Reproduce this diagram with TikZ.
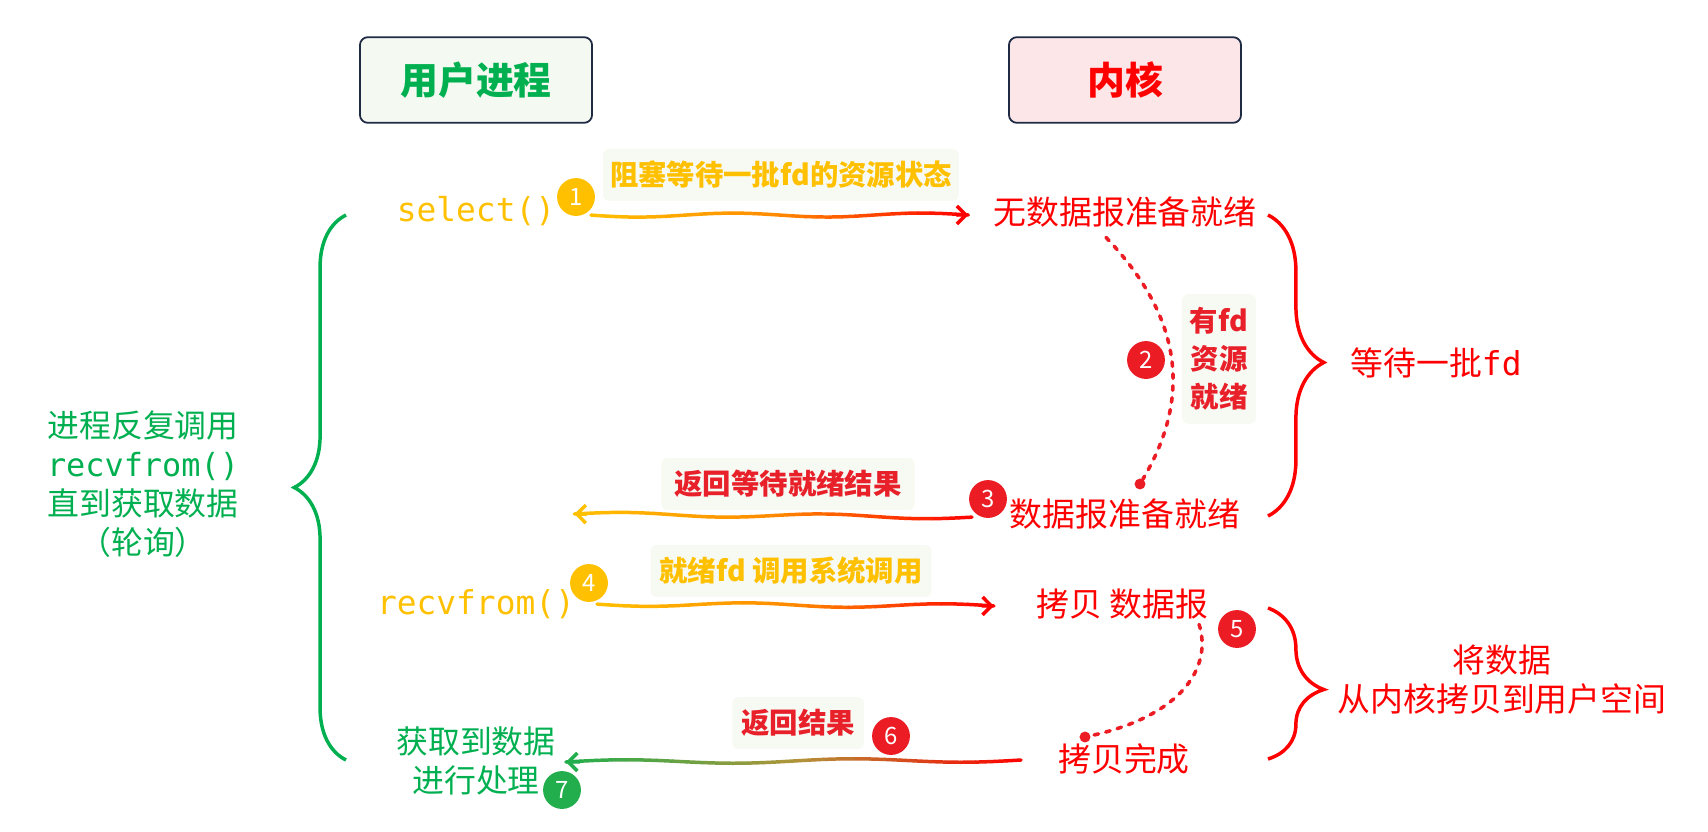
\documentclass[tikz,border=0pt]{standalone}
\usepackage{fontspec}
\setmainfont{Noto Sans CJK SC}
\setmonofont{DejaVu Sans Mono}
\usetikzlibrary{calc, arrows.meta, decorations.pathreplacing}

\definecolor{usrgreen}{HTML}{00B050}
\definecolor{kred}{HTML}{FF0000}
\definecolor{numyel}{HTML}{FFC000}
\definecolor{numred}{HTML}{EC1C24}
\definecolor{numgreen}{HTML}{22AE4C}
\definecolor{lblred}{HTML}{E8202A}
\definecolor{usrbg}{HTML}{F4F9F1}
\definecolor{kerbg}{HTML}{FDE6E7}
\definecolor{hdrline}{HTML}{1F2A44}
\definecolor{notebg}{HTML}{F7F9F3}
\definecolor{midorange}{HTML}{FF8A00}
\definecolor{midolive}{HTML}{B0953A}

% hand drawn arrow whose colour runs from #3 over #4 to #5
\newcommand{\gradarrow}[5]{%
  \foreach \k in {0,...,29}{
    \pgfmathsetmacro{\ta}{\k/30}
    \pgfmathsetmacro{\tb}{(\k+1)/30}
    \pgfmathsetmacro{\tm}{(\k+0.5)/30}
    \ifnum\k<15
      \pgfmathtruncatemacro{\mix}{100-200*\tm}\def\ca{#3}\def\cb{#4}
    \else
      \pgfmathtruncatemacro{\mix}{200-200*\tm}\def\ca{#4}\def\cb{#5}
    \fi
    \draw[flow, \ca!\mix!\cb] ($(#1)!\ta!(#2)+(0,{2*sin(720*\ta)})$) -- ($(#1)!\tb!(#2)+(0,{2*sin(720*\tb)})$);
  }
  \draw[flow, #5, -{Straight Barb[length=9pt,width=18pt]}] ($(#1)!0.97!(#2)$) -- (#2);
}

\begin{document}
\begin{tikzpicture}[x=1bp, y=-1bp,
  hdr/.style={draw=hdrline, line width=1.8, rounded corners=8, minimum width=233, minimum height=86, font=\fontsize{38}{44}\selectfont\bfseries},
  calltext/.style={inner sep=0, text=numyel, font=\fontsize{33}{40}\selectfont\ttfamily},
  badge/.style={circle, minimum size=38, inner sep=0, text=white, font=\fontsize{24}{24}\selectfont},
  note/.style={fill=notebg, rounded corners=6, inner sep=0, minimum height=52, font=\fontsize{28.5}{38}\selectfont\bfseries},
  kstate/.style={inner sep=0, text=kred, font=\fontsize{33}{40}\selectfont},
  gtext/.style={inner sep=0, text=usrgreen, align=center, font=\fontsize{32}{39}\selectfont},
  rtext/.style={inner sep=0, text=kred, align=center, font=\fontsize{33}{39}\selectfont},
  flow/.style={line width=3.5, line cap=round},
  dots/.style={numred, line width=3.6, line cap=round, dash pattern=on 4.5pt off 7.5pt},
  dotend/.style={circle, fill=numred, minimum size=11, inner sep=0},
  gbrace/.style={decorate, decoration={brace, amplitude=52}, draw=usrgreen, line width=3.5},
  rbrace/.style={decorate, decoration={brace, amplitude=56, aspect=#1}, draw=kred, line width=3.5}]
  \useasboundingbox (0,0) rectangle (1708,832);

  % headers
  \node[hdr, fill=usrbg, text=usrgreen] (usr) at (476,80) {用户进程};
  \node[hdr, fill=kerbg, text=kred] (ker) at (1125,80) {内核};

  % select() and the wait for a batch of fd
  \node[calltext] (sel) at (476,211) {select()};
  \node[badge, fill=numyel] (c1) at (576,197) {1};
  \node[note, text=numyel, minimum width=357] (l1) at (781,175) {阻塞等待一批fd的资源状态};
  \node[kstate] (nd) at (1125,212) {无数据报准备就绪};
  \node[dotend] (d1) at (1140,484) {};
  \node[badge, fill=numred] (c2) at (1146,360) {2};
  \node[note, text=lblred, minimum width=74, minimum height=130, align=center] (l2) at (1219,359) {有fd\\资源\\就绪};
  \node[badge, fill=numred] (c3) at (988,499) {3};
  \node[kstate] (rd) at (1125,514) {数据报准备就绪};
  \node[note, text=lblred, minimum width=254] (l3) at (788,484) {返回等待就绪结果};

  % recvfrom() and the copy
  \node[note, text=numyel, minimum width=282] (l4) at (791,571) {就绪fd 调用系统调用};
  \node[calltext] (rcv) at (476,604) {recvfrom()};
  \node[badge, fill=numyel] (c4) at (589,583) {4};
  \node[kstate] (cp) at (1122,604) {拷贝 数据报};
  \node[badge, fill=numred] (c5) at (1237,629) {5};
  \node[dotend] (d2) at (1085,737) {};
  \node[kstate] (done) at (1124,759) {拷贝完成};
  \node[note, text=lblred, minimum width=132] (l6) at (798,723) {返回结果};
  \node[badge, fill=numred] (c6) at (891,736) {6};
  \node[gtext] (get) at (476,761) {获取到数据\\进行处理};
  \node[badge, fill=numgreen] (c7) at (562,790) {7};

  % side notes
  \node[gtext] (loop) at (143,484) {进程反复调用\\{\ttfamily recvfrom()}\\直到获取数据\\（轮询）};
  \node[rtext] (wait) at (1436,363) {等待一批{\ttfamily fd}};
  \node[rtext] (copy) at (1502,680) {将数据\\从内核拷贝到用户空间};

  \draw[gbrace] (346,760) -- (346,215);
  \draw[rbrace=0.49] (1268,215) -- (1268,516);
  \draw[rbrace=0.54] (1268,608) -- (1268,759);

  % arrows
  \coordinate (a1s) at ($(c1.south)+(15,-1)$);
  \coordinate (a1e) at ($(nd.west)+(-25,3)$);
  \coordinate (a3s) at ($(c3.south)+(-16,-1)$);
  \coordinate (a3e) at ($(sel.east |- rd.west)+(19,0)$);
  \coordinate (a4s) at ($(c4.south)+(8,2)$);
  \coordinate (a4e) at ($(cp.west)+(-42,2)$);
  \coordinate (a6s) at ($(done.west)+(-37,1)$);
  \coordinate (a6e) at ($(get.east)+(10,1)$);
  \gradarrow{a1s}{a1e}{numyel}{midorange}{kred}
  \gradarrow{a3s}{a3e}{kred}{midorange}{numyel}
  \gradarrow{a4s}{a4e}{numyel}{midorange}{kred}
  \gradarrow{a6s}{a6e}{kred}{midolive}{numgreen}

  \coordinate (p1s) at ($(nd.south)+(-19,10)$);
  \coordinate (p2s) at ($(cp.south east)+(-9,5)$);
  \draw[dots] (p1s) .. controls (1185,320) and (1190,400) .. (d1);
  \draw[dots] (p2s) .. controls (1212,665) and (1185,715) .. (d2);
\end{tikzpicture}
\end{document}
